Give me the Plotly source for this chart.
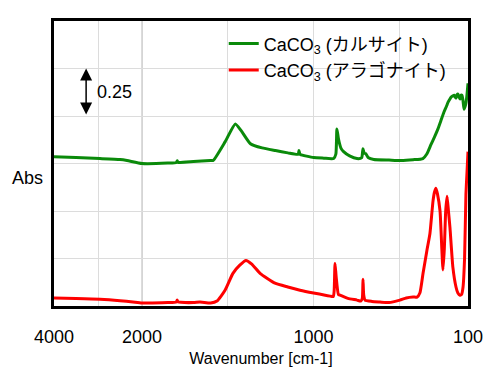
import numpy as np
import plotly.graph_objects as go

# Wavenumber axis breaks at 2000 cm-1 (4000-2000 region compressed)
COMPRESS = 3.9

def u(w):
    w = np.asarray(w, dtype=float)
    return np.where(w <= 2000, 2000 - w, -(w - 2000) / COMPRESS)

# Calcite (green, offset)
calcite_wn = [4000, 3500, 2955, 2500, 2341, 2000, 1850, 1800, 1795, 1790, 1700, 1602, 1585,
              1515, 1456, 1420, 1368, 1300, 1222, 1150, 1090, 1085, 1080, 1076, 1000, 940, 883,
              870, 864, 855, 840, 825, 790, 747, 720, 712, 705, 696, 680, 649, 560, 491, 420,
              363, 340, 316, 295, 275, 258, 240, 226, 216, 205, 199, 190, 181, 176, 170, 164,
              158, 152, 146, 140, 135, 129, 123, 117, 111, 105, 100]
calcite_abs = [0.786, 0.781, 0.776, 0.771, 0.766, 0.750, 0.752, 0.755, 0.764, 0.756, 0.760, 0.766, 0.766,
               0.865, 0.958, 0.920, 0.854, 0.832, 0.818, 0.806, 0.798, 0.818, 0.800, 0.797, 0.781, 0.778, 0.776,
               0.800, 0.932, 0.880, 0.830, 0.8125, 0.790, 0.776, 0.780, 0.828, 0.805, 0.802, 0.780, 0.771, 0.768, 0.766, 0.770,
               0.776, 0.800, 0.849, 0.890, 0.932, 0.975, 1.021, 1.050, 1.073, 1.090, 1.099, 1.105, 1.109, 1.100, 1.094, 1.112,
               1.115, 1.100, 1.089, 1.110, 1.109, 1.080, 1.036, 1.050, 1.073, 1.120, 1.172]

# Aragonite (red)
aragonite_wn = [4000, 3500, 2955, 2500, 2205, 2000, 1850, 1800, 1795, 1790, 1700, 1662, 1600, 1563,
                1516, 1470, 1430, 1394, 1360, 1312, 1225, 1150, 1079, 1000, 904, 885, 880, 875, 868,
                855, 846, 800, 747, 725, 716, 712, 708, 700, 660, 613, 560, 497, 460, 420, 397, 380,
                362, 340, 322, 304, 295, 287, 278, 263, 254, 246, 238, 230, 222, 214, 205, 188, 170,
                159, 147, 138, 129, 120, 112, 106, 100]
aragonite_abs = [0.042, 0.040, 0.036, 0.028, 0.021, 0.016, 0.018, 0.021, 0.031, 0.022, 0.018, 0.021, 0.016, 0.026,
                 0.083, 0.172, 0.215, 0.240, 0.220, 0.172, 0.120, 0.100, 0.083, 0.068, 0.052, 0.050, 0.080, 0.224, 0.150,
                 0.060, 0.057, 0.040, 0.031, 0.026, 0.040, 0.141, 0.060, 0.031, 0.024, 0.021, 0.018, 0.031, 0.042, 0.047, 0.047, 0.070,
                 0.172, 0.290, 0.380, 0.552, 0.600, 0.620, 0.590, 0.500, 0.330, 0.190, 0.300, 0.500, 0.578, 0.500, 0.411, 0.203, 0.100,
                 0.068, 0.057, 0.060, 0.099, 0.250, 0.589, 0.700, 0.8125]

tick_wn = [4000, 2000, 1000, 100]
tick_text = ["4000", "2000", "1000", "100"]
minor_grid_wn = [3000, 1500, 500]

FONT = "Arial, 'Liberation Sans', 'Noto Sans CJK JP', sans-serif"

fig = go.Figure()
fig.add_trace(go.Scatter(x=u(calcite_wn), y=calcite_abs, mode="lines",
                         line=dict(color="#0a8a0a", width=3, shape="spline", smoothing=0.5),
                         name="CaCO<sub>3</sub> (カルサイト)"))
fig.add_trace(go.Scatter(x=u(aragonite_wn), y=aragonite_abs, mode="lines",
                         line=dict(color="#ff0000", width=3, shape="spline", smoothing=0.5),
                         name="CaCO<sub>3</sub> (アラゴナイト)"))

# darker gridline at the 2000 cm-1 break
fig.add_shape(type="line", x0=float(u(2000)), x1=float(u(2000)), y0=0, y1=1,
              xref="x", yref="paper", layer="below",
              line=dict(color="#a8a8a8", width=1))

# scale bar 0.25 Abs
bar_x = float(u(3270))
fig.add_annotation(x=bar_x, y=1.25, ax=bar_x, ay=1.0, xref="x", yref="y",
                   axref="x", ayref="y", text="", showarrow=True,
                   arrowhead=2, arrowside="end+start", arrowsize=1.6,
                   arrowwidth=1.5, arrowcolor="black")
fig.add_annotation(x=float(u(3060)), y=1.125, xref="x", yref="y", text="0.25",
                   showarrow=False, xanchor="left", yanchor="middle",
                   font=dict(size=18, color="black", family=FONT))
fig.add_annotation(x=-0.063, y=0.45, xref="paper", yref="paper", text="Abs",
                   showarrow=False, xanchor="center", yanchor="middle",
                   font=dict(size=18, color="black", family=FONT))

fig.update_layout(
    width=500, height=375,
    margin=dict(l=46, r=40, t=10, b=77),
    paper_bgcolor="white", plot_bgcolor="white",
    font=dict(family=FONT, color="black", size=18),
    showlegend=True,
    legend=dict(x=0.41, y=0.985, xanchor="left", yanchor="top",
                bgcolor="rgba(0,0,0,0)", font=dict(size=18, family=FONT),
                tracegroupgap=0, itemwidth=30),
    xaxis=dict(range=[float(u(4000)), float(u(100))], tickmode="array",
               tickvals=u(tick_wn).tolist(), ticktext=tick_text,
               showgrid=True, gridcolor="#dcdcdc", gridwidth=1,
               minor=dict(tickmode="array", tickvals=u(minor_grid_wn).tolist(),
                          showgrid=True, gridcolor="#dcdcdc", gridwidth=1, ticks=""),
               zeroline=False, showline=True, linecolor="black", linewidth=3,
               mirror=True, ticks="outside", ticklen=12, tickcolor="rgba(0,0,0,0)",
               tickfont=dict(size=18, family=FONT),
               title=dict(text="Wavenumber [cm-1]", font=dict(size=16, family=FONT),
                          standoff=8)),
    yaxis=dict(range=[0, 1.5], dtick=0.25, tick0=0, showticklabels=False,
               showgrid=True, gridcolor="#dcdcdc", gridwidth=1, zeroline=False,
               showline=True, linecolor="black", linewidth=3, mirror=True, ticks=""),
)

fig.write_html("out.html")
